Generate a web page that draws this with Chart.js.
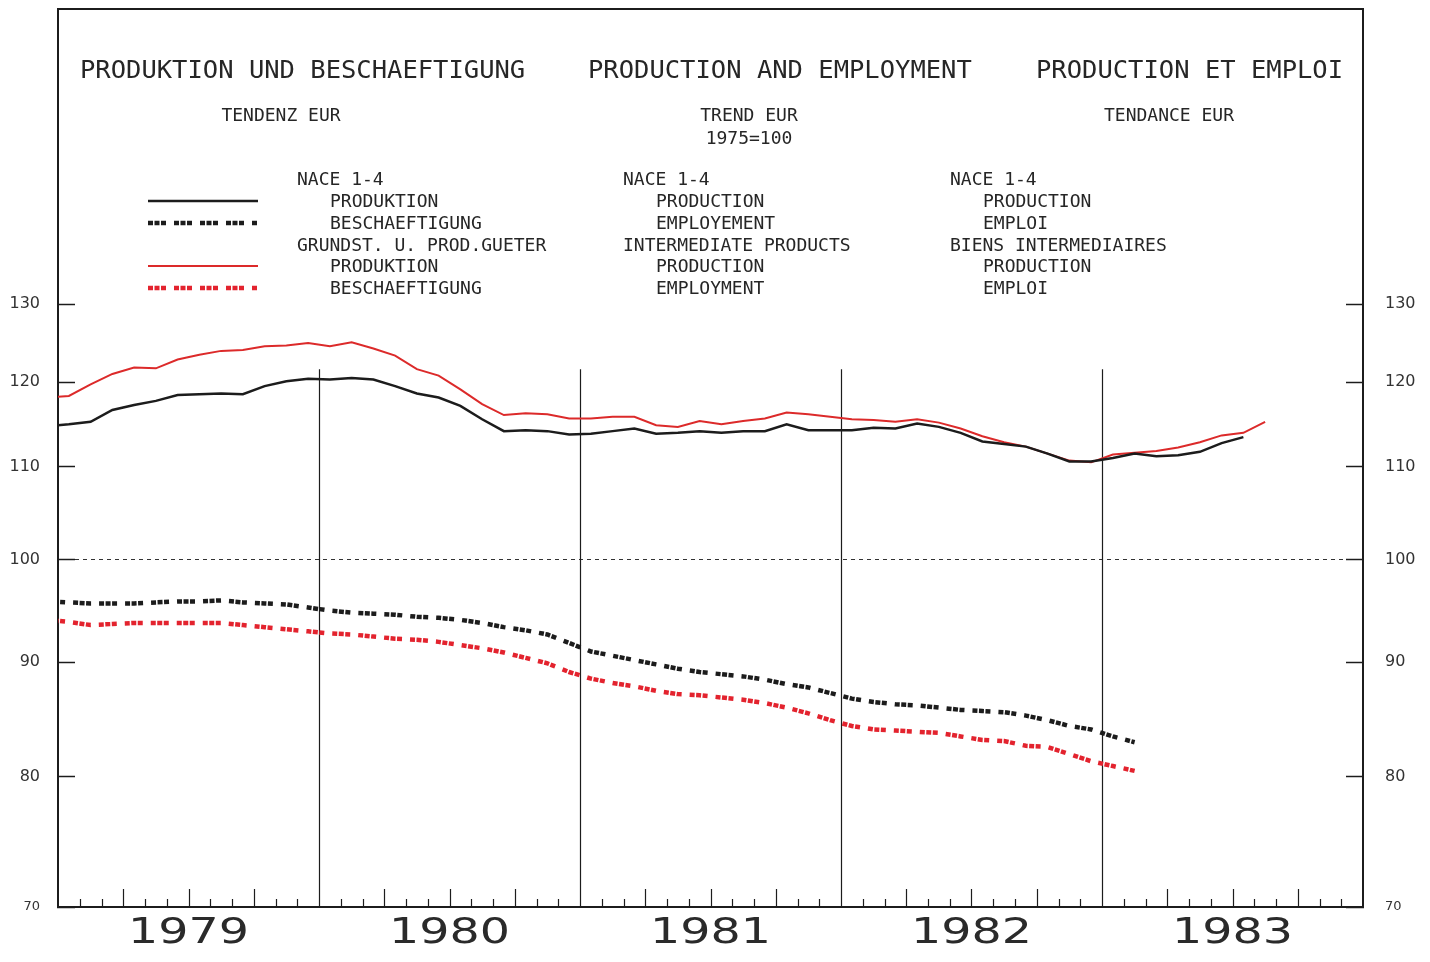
<!DOCTYPE html>
<html>
<head>
<meta charset="utf-8">
<title>Produktion und Beschaeftigung</title>
<script src="https://cdn.jsdelivr.net/npm/chart.js@4.4.1/dist/chart.umd.min.js"></script>
<style>
  html, body { margin: 0; padding: 0; background: #fff; }
  canvas { display: block; }
</style>
</head>
<body>
<canvas id="chart" width="1430" height="962"></canvas>
<script>
// monthly trend, 1975=100. first value is Dec 1978 (half a month left of the axis, gets clipped)
const years = ["1979", "1980", "1981", "1982", "1983"];
const yTicks = [70, 80, 90, 100, 110, 120, 130];

const productionNace = [
  114.7, 114.9, 115.2, 116.6, 117.2, 117.7, 118.4, 118.5, 118.6, 118.5, 119.5, 120.1, 120.4,
  120.3, 120.5, 120.3, 119.5, 118.6, 118.1, 117.1, 115.5, 114.1, 114.2, 114.1, 113.7,
  113.8, 114.1, 114.4, 113.8, 113.9, 114.1, 113.9, 114.1, 114.1, 114.9, 114.2, 114.2,
  114.2, 114.5, 114.4, 115.0, 114.6, 113.9, 112.9, 112.6, 112.3, 111.5, 110.6, 110.6,
  111.0, 111.5, 111.2, 111.3, 111.7, 112.7, 113.4
];
const employmentNace = [
  95.8, 95.7, 95.6, 95.6, 95.6, 95.7, 95.8, 95.8, 95.9, 95.7, 95.6, 95.5, 95.2,
  94.9, 94.7, 94.6, 94.5, 94.3, 94.2, 94.0, 93.7, 93.3, 93.0, 92.6, 91.8,
  91.0, 90.6, 90.2, 89.8, 89.4, 89.1, 88.9, 88.7, 88.4, 88.0, 87.7, 87.2,
  86.7, 86.4, 86.2, 86.1, 85.9, 85.7, 85.6, 85.5, 85.2, 84.8, 84.3, 84.0,
  83.4, 82.9
];
const productionInter = [
  118.1, 118.3, 119.7, 121.0, 121.8, 121.7, 122.8, 123.4, 123.9, 124.0, 124.5, 124.6, 124.9,
  124.5, 125.0, 124.2, 123.3, 121.6, 120.8, 119.1, 117.3, 116.0, 116.2, 116.1, 115.6,
  115.6, 115.8, 115.8, 114.8, 114.6, 115.3, 114.9, 115.3, 115.6, 116.3, 116.1, 115.8,
  115.5, 115.4, 115.2, 115.5, 115.1, 114.4, 113.5, 112.8, 112.3, 111.5, 110.7, 110.5,
  111.4, 111.6, 111.8, 112.2, 112.8, 113.6, 113.9, 115.2
];
const employmentInter = [
  94.0, 93.8, 93.5, 93.6, 93.7, 93.7, 93.7, 93.7, 93.7, 93.5, 93.3, 93.1, 92.9,
  92.7, 92.6, 92.4, 92.2, 92.1, 91.9, 91.6, 91.3, 90.9, 90.4, 89.9, 89.1,
  88.5, 88.1, 87.8, 87.4, 87.1, 87.0, 86.8, 86.6, 86.3, 85.9, 85.4, 84.8,
  84.3, 84.0, 83.9, 83.8, 83.7, 83.4, 83.1, 83.0, 82.6, 82.5, 81.9, 81.3,
  80.9, 80.5
];

const titles = ["PRODUKTION UND BESCHAEFTIGUNG", "PRODUCTION AND EMPLOYMENT", "PRODUCTION ET EMPLOI"];
const subtitles = [["TENDENZ EUR"], ["TREND EUR", "1975=100"], ["TENDANCE EUR"]];
const legendDe = ["NACE 1-4", "PRODUKTION", "BESCHAEFTIGUNG", "GRUNDST. U. PROD.GUETER", "PRODUKTION", "BESCHAEFTIGUNG"];
const legendEn = ["NACE 1-4", "PRODUCTION", "EMPLOYEMENT", "INTERMEDIATE PRODUCTS", "PRODUCTION", "EMPLOYMENT"];
const legendFr = ["NACE 1-4", "PRODUCTION", "EMPLOI", "BIENS INTERMEDIAIRES", "PRODUCTION", "EMPLOI"];

const INK = "#1c1c1c";
const RED = "#dc2a2a";
const MONO = "'DejaVu Sans Mono', monospace";
const DOTS = [5, 1.5, 5, 1.5, 5, 8];

const toPoints = vals => vals.map((v, i) => ({ x: i - 0.5, y: v }));

const paper = {
  id: "paper",
  beforeDatasetsDraw(chart) {
    const { ctx, chartArea: a, scales: { x, y } } = chart;
    ctx.save();
    ctx.strokeStyle = INK;
    ctx.lineWidth = 2;
    ctx.beginPath();
    ctx.moveTo(a.left - 1, a.top);
    ctx.lineTo(a.right + 1, a.top);
    ctx.stroke();

    // year separators
    ctx.lineWidth = 1.2;
    const top = y.getPixelForValue(121.6);
    for (let m = 12; m < 60; m += 12) {
      const px = Math.round(x.getPixelForValue(m)) + 0.5;
      ctx.beginPath();
      ctx.moveTo(px, top);
      ctx.lineTo(px, a.bottom);
      ctx.stroke();
    }
    // month ticks, longer each quarter
    for (let m = 1; m < 60; m++) {
      if (m % 12 === 0) continue;
      const px = Math.round(x.getPixelForValue(m)) + 0.5;
      const len = m % 3 === 0 ? 18 : 8;
      ctx.beginPath();
      ctx.moveTo(px, a.bottom);
      ctx.lineTo(px, a.bottom - len);
      ctx.stroke();
    }
    ctx.restore();
  },
  afterDraw(chart) {
    const { ctx, scales: { x } } = chart;
    const ds = chart.data.datasets;
    ctx.save();
    ctx.fillStyle = "#262626";
    ctx.textBaseline = "middle";

    ctx.font = "25.5px " + MONO;
    ctx.textAlign = "left";
    [80, 588, 1036].forEach((tx, i) => ctx.fillText(titles[i], tx, 71));

    ctx.font = "18px " + MONO;
    ctx.textAlign = "center";
    [281, 749, 1169].forEach((cx, i) => {
      subtitles[i].forEach((s, r) => ctx.fillText(s, cx, 116 + r * 23));
    });

    ctx.textAlign = "left";
    const rows = [180, 202, 224, 246, 267, 289];
    [[legendDe, 297], [legendEn, 623], [legendFr, 950]].forEach(([lines, lx]) => {
      lines.forEach((s, r) => {
        const indent = (r === 0 || r === 3) ? 0 : 33;
        ctx.fillText(s, lx + indent, rows[r]);
      });
    });

    // legend samples use the dataset styles
    [1, 2, 4, 5].forEach((r, i) => {
      const d = ds[i];
      ctx.save();
      ctx.strokeStyle = d.borderColor;
      ctx.lineWidth = d.borderWidth;
      ctx.setLineDash(d.borderDash || []);
      ctx.beginPath();
      ctx.moveTo(148, rows[r] - 1);
      ctx.lineTo(258, rows[r] - 1);
      ctx.stroke();
      ctx.restore();
    });

    // year labels, wide plotter-like digits
    ctx.font = "36px 'DejaVu Sans'";
    ctx.fillStyle = "#2a2a2a";
    ctx.textAlign = "center";
    years.forEach((yr, j) => {
      const cx = x.getPixelForValue(6 + 12 * j);
      ctx.save();
      ctx.translate(cx, 934);
      ctx.scale(1.32, 1);
      ctx.fillText(yr, 0, 0);
      ctx.restore();
    });
    ctx.restore();
  }
};

const yAxis = (position, width, padding) => ({
  type: "logarithmic",
  position: position,
  min: 70,
  max: 176,
  afterBuildTicks(s) { s.ticks = yTicks.map(v => ({ value: v })); },
  afterFit(s) {
    s.width = width;
    s.paddingTop = 0;
    s.paddingBottom = 0;
  },
  ticks: {
    padding: padding,
    color: "#333",
    font: c => ({ family: "'DejaVu Sans'", size: c.tick && c.tick.value === 70 ? 13 : 16 }),
    callback: v => String(v)
  },
  grid: {
    drawOnChartArea: position === "left",
    color: c => (c.tick && c.tick.value === 100 ? "#333" : "rgba(0,0,0,0)"),
    lineWidth: 1,
    borderDash: [4, 4],
    drawTicks: true,
    tickLength: -17,
    tickColor: INK,
    tickWidth: 1.5
  },
  border: { display: true, color: INK, width: 2, dash: [4, 4] }
});

new Chart(document.getElementById("chart"), {
  type: "line",
  data: {
    datasets: [
      { label: "Produktion NACE 1-4", data: toPoints(productionNace), borderColor: INK, borderWidth: 2.5 },
      { label: "Beschaeftigung NACE 1-4", data: toPoints(employmentNace), borderColor: INK, borderWidth: 4.5, borderDash: DOTS },
      { label: "Produktion Grundst. u. Prod.gueter", data: toPoints(productionInter), borderColor: RED, borderWidth: 2 },
      { label: "Beschaeftigung Grundst. u. Prod.gueter", data: toPoints(employmentInter), borderColor: "#e3232e", borderWidth: 4.5, borderDash: DOTS }
    ]
  },
  options: {
    responsive: false,
    devicePixelRatio: 1,
    animation: false,
    layout: { padding: { top: 9, left: 0, right: 0, bottom: 0 } },
    elements: { point: { radius: 0 }, line: { tension: 0, fill: false } },
    datasets: { line: { clip: 0 } },
    scales: {
      x: {
        type: "linear",
        min: 0,
        max: 60,
        ticks: { display: false },
        grid: { display: false, drawTicks: false },
        border: { display: true, color: INK, width: 2 },
        afterFit(s) { s.height = 55; }
      },
      y: yAxis("left", 58, 35),
      y2: yAxis("right", 67, 39)
    },
    plugins: {
      legend: { display: false },
      tooltip: { enabled: false }
    }
  },
  plugins: [paper]
});
</script>
</body>
</html>
